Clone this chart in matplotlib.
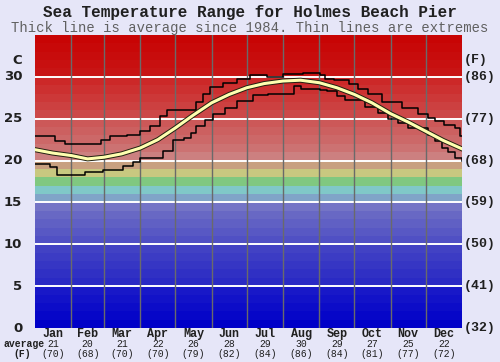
#!/usr/bin/env python
"""Sea temperature range chart (Holmes Beach Pier) - avg line + min/max extremes."""
import matplotlib
matplotlib.use("Agg")
import matplotlib.pyplot as plt
import matplotlib.patheffects as pe
import numpy as np

# --- data ---
months = ["Jan", "Feb", "Mar", "Apr", "May", "Jun", "Jul", "Aug", "Sep", "Oct", "Nov", "Dec"]
month_avg_c = [21, 20, 21, 22, 26, 28, 29, 30, 29, 27, 25, 22]
month_avg_f = [70, 68, 70, 70, 79, 82, 84, 86, 84, 81, 77, 72]

avg_day = [0, 15, 31, 45, 59, 74, 90, 105, 120, 135, 151, 166, 181, 196, 212,
           227, 243, 258, 273, 288, 304, 319, 334, 349, 365]
avg_temp = [21.3, 20.9, 20.6, 20.2, 20.4, 20.8, 21.5, 22.5, 23.9, 25.4, 26.9, 27.9, 28.7,
            29.2, 29.5, 29.6, 29.3, 28.7, 27.9, 26.9, 25.6, 24.6, 23.5, 22.4, 21.4]

max_day = [0, 17, 26, 56, 64, 79, 90, 98, 107, 113, 138, 144, 150, 161, 173, 184, 198,
           212, 229, 244, 248, 256, 268, 276, 285, 297, 314, 327, 336, 342, 350, 359, 363, 365]
max_temp = [22.9, 22.3, 22.0, 22.5, 22.9, 23.1, 23.5, 24.1, 25.3, 26.0, 27.0, 28.0, 28.8,
            29.3, 29.8, 30.2, 30.0, 30.3, 30.5, 30.2, 29.8, 29.6, 29.2, 28.6, 28.0, 27.0,
            26.3, 25.6, 25.1, 24.7, 24.3, 23.9, 22.9, 22.9]

min_day = [0, 13, 19, 43, 58, 75, 84, 90, 109, 118, 127, 133, 138, 145, 152, 162, 173,
           186, 199, 209, 221, 227, 244, 250, 258, 265, 282, 293, 302, 310, 319, 336,
           342, 348, 353, 359, 365]
min_temp = [19.6, 19.2, 18.3, 18.6, 18.9, 19.3, 19.8, 20.3, 21.1, 22.5, 22.7, 23.3, 24.1,
            24.8, 25.6, 26.3, 27.1, 27.8, 27.9, 28.0, 28.9, 28.6, 28.4, 28.3, 27.7, 27.2,
            26.4, 25.7, 25.0, 24.5, 23.9, 23.1, 22.3, 21.5, 21.0, 20.3, 19.9]

# one colour per 1 degree band, 0 -> 35 C
band_colors = [
    "#0000c8", "#0606c8", "#0c0cc8", "#1212c8", "#1818c8",
    "#2a2ac4", "#3030c4", "#3636c4", "#3c3cc4", "#4242c4",
    "#5050c4", "#5858c4", "#6060c4", "#6868c4", "#7474c6",
    "#80a4c8", "#80c8c8", "#80c880", "#c8c880", "#c8a080",
    "#cc8080", "#cc7272", "#cc6868", "#cc6060", "#cc5858",
    "#cc4848", "#cc4040", "#cc3838", "#cc3030", "#cc2828",
    "#c81414", "#c81010", "#c80c0c", "#c80808", "#c80404",
]

BG = "#e6e6f8"
MONO = ["Liberation Mono", "DejaVu Sans Mono"]

fig = plt.figure(figsize=(5.0, 3.62), dpi=100, facecolor=BG)
ax = fig.add_axes([35 / 500, 34 / 362, 427 / 500, 293 / 362])
ax.set_xlim(0, 365)
ax.set_ylim(0, 35)

for i, c in enumerate(band_colors):
    ax.axhspan(i, i + 1, color=c, lw=0, zorder=0)

for y in range(5, 35, 5):
    ax.axhline(y, color="white", lw=1.4, zorder=1)

month_len = [31, 28, 31, 30, 31, 30, 31, 31, 30, 31, 30, 31]
bounds = np.cumsum([0] + month_len)
for b in bounds[1:-1]:
    ax.axvline(b, color="#6a6a6a", lw=1.0, zorder=1)

ax.plot(max_day, max_temp, drawstyle="steps-post", color="black", lw=1.1, zorder=3)
ax.plot(min_day, min_temp, drawstyle="steps-post", color="black", lw=1.1, zorder=3)
ax.plot(avg_day, avg_temp, color="#ffffb0", lw=2.2, zorder=4,
        path_effects=[pe.Stroke(linewidth=3.6, foreground="#202010"), pe.Normal()])

ax.set_xticks([])
ax.set_yticks([])
for s in ax.spines.values():
    s.set_visible(False)

# y labels, both sides
for c in range(0, 35, 5):
    f = round(c * 9 / 5 + 32)
    ax.text(-0.03, c, str(c), transform=ax.get_yaxis_transform(), ha="right", va="center",
            fontsize=9.5, fontweight="bold", color="#202020")
    ax.text(1.005, c, f"({f})", transform=ax.get_yaxis_transform(), ha="left", va="center",
            fontsize=9.5, fontweight="bold", color="#202020", family=MONO)
ax.text(-0.03, 32, "C", transform=ax.get_yaxis_transform(), ha="right", va="center",
        fontsize=9.5, fontweight="bold", color="#202020")
ax.text(1.005, 32, "(F)", transform=ax.get_yaxis_transform(), ha="left", va="center",
        fontsize=9.5, fontweight="bold", color="#202020", family=MONO)

# month labels + averages under the axis
for i, m in enumerate(months):
    xc = (bounds[i] + bounds[i + 1]) / 2
    xf = ax.transData.transform((xc, 0))[0] / fig.bbox.width
    fig.text(xf, 1 - 334 / 362, m, ha="center", va="center", fontsize=8.5,
             fontweight="bold", family=MONO, color="#202020")
    fig.text(xf, 1 - 344 / 362, str(month_avg_c[i]), ha="center", va="center",
             fontsize=7, family=MONO, color="#202020")
    fig.text(xf, 1 - 354 / 362, f"({month_avg_f[i]})", ha="center", va="center",
             fontsize=7, family=MONO, color="#202020")
fig.text(3 / 500, 1 - 344 / 362, "average", ha="left", va="center", fontsize=7,
         fontweight="bold", family=MONO, color="#202020")
fig.text(22 / 500, 1 - 354 / 362, "(F)", ha="center", va="center", fontsize=7,
         fontweight="bold", family=MONO, color="#202020")

fig.text(0.5, 1 - 13 / 362, "Sea Temperature Range for Holmes Beach Pier", ha="center",
         va="center", fontsize=11.5, fontweight="bold", family=MONO, color="#202020")
fig.text(0.5, 1 - 28 / 362, "Thick line is average since 1984. Thin lines are extremes",
         ha="center", va="center", fontsize=10, family=MONO, color="#606060")

fig.savefig("out.png", dpi=100, facecolor=BG)
